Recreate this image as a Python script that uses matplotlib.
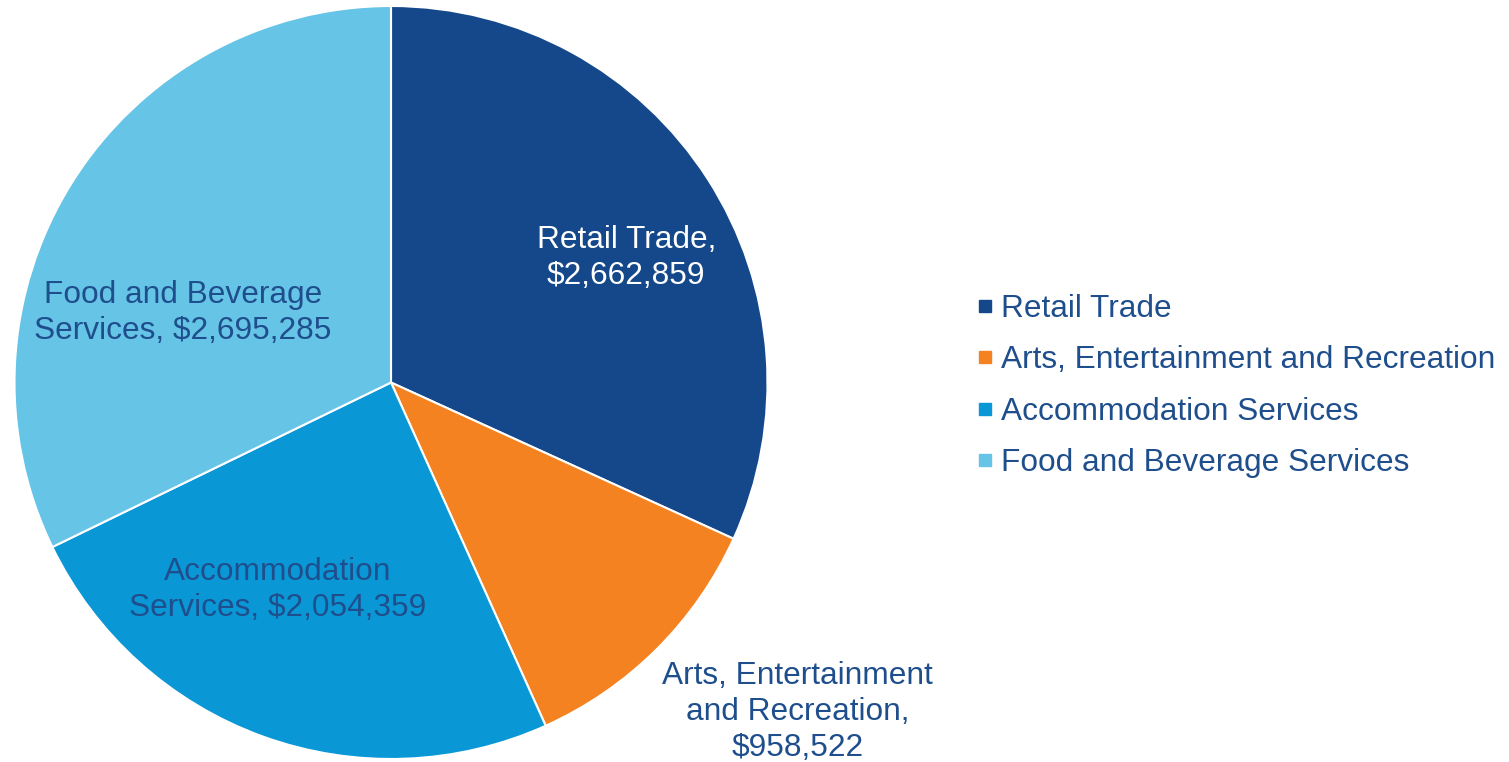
import matplotlib
matplotlib.use("Agg")
import matplotlib.pyplot as plt
from matplotlib.lines import Line2D

categories = ["Retail Trade", "Arts, Entertainment and Recreation",
              "Accommodation Services", "Food and Beverage Services"]
values = [2662859, 958522, 2054359, 2695285]
colors = ["#14488A", "#F58220", "#0A97D6", "#66C4E7"]
slice_labels = ["Retail Trade,\n$2,662,859",
                "Arts, Entertainment\nand Recreation,\n$958,522",
                "Accommodation\nServices, $2,054,359",
                "Food and Beverage\nServices, $2,695,285"]
label_pos = [(0.625, 0.33), (1.080, -0.875), (-0.302, -0.551), (-0.553, 0.184)]
label_colors = ["white", "#1F4E8C", "#1F4E8C", "#1F4E8C"]

plt.rcParams["font.family"] = ["Liberation Sans", "DejaVu Sans"]

W, H = 1509, 762
fig = plt.figure(figsize=(W / 100, H / 100), dpi=100)
cx, cy, r = 391, 382.5, 376.5
ax = fig.add_axes([(cx - r) / W, (H - cy - r) / H, 2 * r / W, 2 * r / H])

ax.pie(values, colors=colors, startangle=90, counterclock=False,
       wedgeprops=dict(edgecolor="white", linewidth=1.5))
ax.set_xlim(-1, 1)
ax.set_ylim(-1, 1)
ax.set_aspect("equal")

for text, (x, y), c in zip(slice_labels, label_pos, label_colors):
    ax.text(x, y, text, ha="center", va="center", fontsize=22.8, color=c,
            linespacing=1.25, clip_on=False)

handles = [Line2D([], [], marker="s", linestyle="none", color=c, markersize=9)
           for c in colors]
leg = fig.legend(handles, categories, loc="center left",
                 bbox_to_anchor=(963 / W, 1 - 386 / H), frameon=False,
                 fontsize=22.8, handlelength=0.4, handletextpad=0.3,
                 labelspacing=0.68, borderpad=0)
for t in leg.get_texts():
    t.set_color("#1F4E8C")

fig.savefig("out.png", dpi=100)
